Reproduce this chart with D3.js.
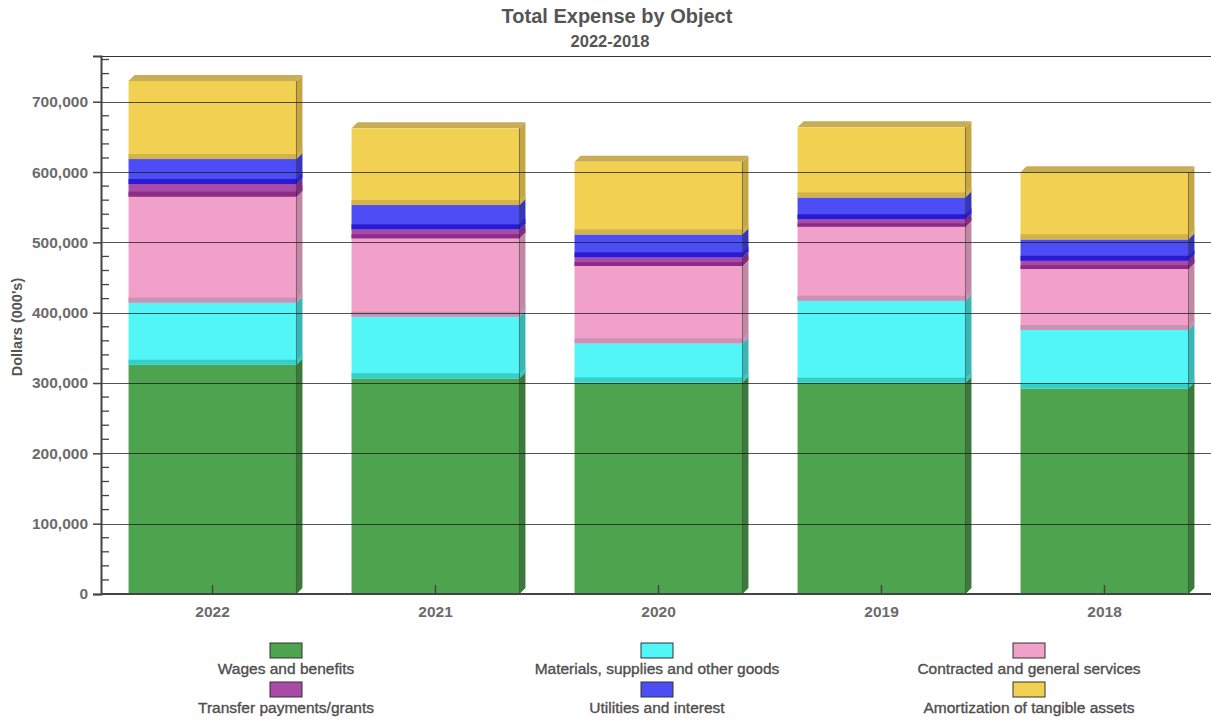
<!DOCTYPE html>
<html>
<head>
<meta charset="utf-8">
<script src="https://cdn.jsdelivr.net/npm/d3@7"></script>
<style>
  html, body { margin: 0; padding: 0; background: #fff; }
  svg { display: block; font-family: "Liberation Sans", Arial, sans-serif; }
</style>
</head>
<body>
<svg id="chart" width="1211" height="721"></svg>
<script>
// Fiscal years, newest first
const years = ["2022", "2021", "2020", "2019", "2018"];

// Expense by object, in thousands of dollars
const wages        = [326000, 306700, 300800, 300500, 292400];
const materials    = [88200, 87600, 55600, 116500, 83000];
const contracted   = [150800, 111400, 110000, 105300, 86700];
const transfers    = [18000, 12800, 12300, 10500, 11800];
const utilities    = [35500, 34600, 32700, 31200, 30400];
const amortization = [111000, 109000, 103300, 99600, 95300];

const seriesNames = [
  "Wages and benefits",
  "Materials, supplies and other goods",
  "Contracted and general services",
  "Transfer payments/grants",
  "Utilities and interest",
  "Amortization of tangible assets"
];
const seriesValues = [wages, materials, contracted, transfers, utilities, amortization];

const yTicks = [0, 100000, 200000, 300000, 400000, 500000, 600000, 700000];

// face colours: front, lower band, side, top
const palette = [
  { front: "#4ea34e", band: "#3f8d40", side: "#3b7a3b", top: "#3f8a3f" },
  { front: "#52f6f6", band: "#34cfc6", side: "#38b6b6", top: "#38c8c4" },
  { front: "#f1a1c9", band: "#c993b6", side: "#c088a4", top: "#cf95b6" },
  { front: "#a94aa9", band: "#8c2c84", side: "#7a2d7a", top: "#8c3a8a" },
  { front: "#4d4df5", band: "#2a1ad2", side: "#3636bc", top: "#3a30d0" },
  { front: "#f2d152", band: "#d3b24a", side: "#c4a644", top: "#c9ac56" }
];

const W = 1211, H = 721;
const plot = { left: 101, right: 1216, top: 56, bottom: 594 };
const depth = 6;

const svg = d3.select("#chart");
svg.append("rect").attr("width", W).attr("height", H).attr("fill", "#fff");

const x = d3.scaleBand()
  .domain(years)
  .range([plot.left, plot.right])
  .paddingInner(0.247)
  .paddingOuter(0.1235);

const y = d3.scaleLinear()
  .domain([0, 765000])
  .range([plot.bottom, plot.top]);

// stack the series
const rows = years.map((yr, i) => {
  const r = { year: yr };
  seriesNames.forEach((n, k) => { r[n] = seriesValues[k][i]; });
  return r;
});
const stacked = d3.stack().keys(seriesNames)(rows);

// bars
const barsG = svg.append("g");
stacked.forEach((layer, k) => {
  const col = palette[k];
  const isTop = k === stacked.length - 1;
  layer.forEach(d => {
    const x0 = x(d.data.year);
    const x1 = x0 + x.bandwidth();
    const yTop = y(d[1]);
    const yBot = y(d[0]);
    const g = barsG.append("g");
    // side face
    g.append("path")
      .attr("d", `M${x1},${yBot} L${x1 + depth},${yBot - depth} L${x1 + depth},${yTop - depth} L${x1},${yTop} Z`)
      .attr("fill", col.side);
    if (isTop) {
      g.append("path")
        .attr("d", `M${x0},${yTop} L${x0 + depth},${yTop - depth} L${x1 + depth},${yTop - depth} L${x1},${yTop} Z`)
        .attr("fill", col.top);
    }
    // front face
    g.append("rect")
      .attr("x", x0).attr("y", yTop)
      .attr("width", x1 - x0).attr("height", yBot - yTop)
      .attr("fill", col.front);
    // darker band at the segment's lower edge
    if (k > 0) {
      const bh = Math.min(5, (yBot - yTop) * 0.45);
      g.append("rect")
        .attr("x", x0).attr("y", yBot - bh)
        .attr("width", x1 - x0).attr("height", bh)
        .attr("fill", col.band);
      g.append("path")
        .attr("d", `M${x1},${yBot} L${x1 + depth},${yBot - depth} L${x1 + depth},${yBot - depth - bh} L${x1},${yBot - bh} Z`)
        .attr("fill", col.band).attr("opacity", 0.8);
    }
    // edge between front and side
    g.append("line")
      .attr("x1", x1).attr("x2", x1)
      .attr("y1", yTop).attr("y2", yBot)
      .attr("stroke", "#000").attr("stroke-opacity", 0.45).attr("stroke-width", 1);
  });
});

// horizontal grid lines, drawn over the bars
svg.append("g")
  .selectAll("line")
  .data(yTicks.filter(t => t > 0))
  .join("line")
  .attr("x1", plot.left).attr("x2", W)
  .attr("y1", d => Math.round(y(d)) + 0.5).attr("y2", d => Math.round(y(d)) + 0.5)
  .attr("stroke", "#1a1a1a").attr("stroke-opacity", 0.75).attr("stroke-width", 1);

// frame top line
svg.append("line")
  .attr("x1", plot.left).attr("x2", W)
  .attr("y1", plot.top + 0.5).attr("y2", plot.top + 0.5)
  .attr("stroke", "#333").attr("stroke-width", 1.2);

// y axis
const yAxis = d3.axisLeft(y)
  .tickValues(yTicks)
  .tickSize(8)
  .tickPadding(5)
  .tickFormat(d3.format(",d"));
const yG = svg.append("g")
  .attr("transform", `translate(${plot.left},0)`)
  .call(yAxis);
yG.select(".domain").attr("stroke", "#444").attr("stroke-width", 2);
yG.selectAll(".tick line").attr("stroke", "#444").attr("stroke-width", 1.5);
yG.selectAll(".tick text")
  .attr("fill", "#6b6b6b")
  .style("font-size", "15.5px")
  .style("font-weight", "bold");

// minor ticks pointing into the plot
const minor = d3.range(0, 765001, 20000).filter(v => v % 100000 !== 0);
svg.append("g")
  .selectAll("line")
  .data(minor)
  .join("line")
  .attr("x1", plot.left).attr("x2", plot.left + 8)
  .attr("y1", d => y(d)).attr("y2", d => y(d))
  .attr("stroke", "#444").attr("stroke-width", 1.3);

// x axis
const xAxis = d3.axisBottom(x).tickSize(0).tickPadding(12);
const xG = svg.append("g")
  .attr("transform", `translate(0,${plot.bottom})`)
  .call(xAxis);
xG.select(".domain").remove();
xG.selectAll(".tick text")
  .attr("fill", "#6b6b6b")
  .style("font-size", "15.5px")
  .style("font-weight", "bold");
svg.append("line")
  .attr("x1", plot.left).attr("x2", W)
  .attr("y1", plot.bottom).attr("y2", plot.bottom)
  .attr("stroke", "#444").attr("stroke-width", 2);
svg.append("g")
  .selectAll("line")
  .data(years)
  .join("line")
  .attr("x1", d => x(d) + x.bandwidth() / 2).attr("x2", d => x(d) + x.bandwidth() / 2)
  .attr("y1", plot.bottom - 9).attr("y2", plot.bottom)
  .attr("stroke", "#444").attr("stroke-width", 1.5);

// y axis title
svg.append("text")
  .attr("transform", `translate(22,327) rotate(-90)`)
  .attr("text-anchor", "middle")
  .attr("fill", "#555")
  .style("font-size", "14.5px")
  .style("font-weight", "bold")
  .text("Dollars (000's)");

// titles
svg.append("text")
  .attr("x", 617).attr("y", 23)
  .attr("text-anchor", "middle")
  .attr("fill", "#555")
  .style("font-size", "20px")
  .style("font-weight", "bold")
  .text("Total Expense by Object");
svg.append("text")
  .attr("x", 610).attr("y", 47)
  .attr("text-anchor", "middle")
  .attr("fill", "#555")
  .style("font-size", "16.5px")
  .style("font-weight", "bold")
  .text("2022-2018");

// legend: three columns, two rows
const legendCols = [286, 657, 1029];
const legendRows = [643, 682];
const legend = svg.append("g");
seriesNames.forEach((name, k) => {
  const cx = legendCols[k % 3];
  const top = legendRows[Math.floor(k / 3)];
  legend.append("rect")
    .attr("x", cx - 16).attr("y", top)
    .attr("width", 32).attr("height", 15)
    .attr("fill", palette[k].front)
    .attr("stroke", "#333").attr("stroke-width", 1);
  legend.append("text")
    .attr("x", cx).attr("y", top + 31)
    .attr("text-anchor", "middle")
    .attr("fill", "#4e4e4e")
    .attr("stroke", "#4e4e4e").attr("stroke-width", 0.35)
    .style("font-size", "15.5px")
    .text(name);
});
</script>
</body>
</html>
